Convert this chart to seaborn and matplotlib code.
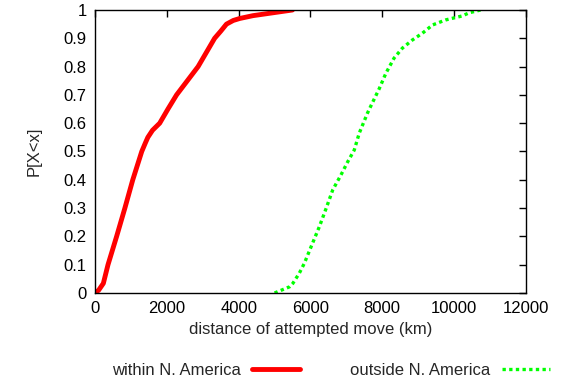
import numpy as np
import pandas as pd
import matplotlib
matplotlib.use('Agg')
import matplotlib.pyplot as plt
import seaborn as sns

# CDF points (distance in km, cumulative probability)
within_km = [0, 100, 230, 360, 600, 830, 1050, 1200, 1300, 1400, 1470, 1600, 1800,
             2030, 2270, 2570, 2870, 3100, 3330, 3500, 3660, 3850, 4030, 4400, 4950, 5500]
within_p = [0, 0.01, 0.034, 0.1, 0.2, 0.3, 0.4, 0.46, 0.5, 0.53, 0.55, 0.575, 0.6,
            0.65, 0.7, 0.75, 0.8, 0.85, 0.9, 0.925, 0.95, 0.963, 0.97, 0.98, 0.99, 1.0]

outside_km = [5000, 5420, 5510, 5690, 5830, 6020, 6250, 6440, 6620, 6850, 7040,
              7220, 7360, 7590, 7680, 7920, 8100, 8330, 8560, 8840, 9120, 9400,
              9770, 10230, 10420, 10740]
outside_p = [0, 0.022, 0.034, 0.07, 0.105, 0.164, 0.235, 0.30, 0.364, 0.417, 0.464,
             0.505, 0.565, 0.636, 0.66, 0.723, 0.776, 0.83, 0.865, 0.894, 0.918, 0.947,
             0.965, 0.979, 0.99, 1.0]

series_names = ['within N. America', 'outside N. America']
x_ticks = [0, 2000, 4000, 6000, 8000, 10000, 12000]
y_ticks = [0, 0.1, 0.2, 0.3, 0.4, 0.5, 0.6, 0.7, 0.8, 0.9, 1.0]
y_tick_labels = ['0', '0.1', '0.2', '0.3', '0.4', '0.5', '0.6', '0.7', '0.8', '0.9', '1']

df = pd.concat([
    pd.DataFrame({'km': within_km, 'p': within_p, 'set': series_names[0]}),
    pd.DataFrame({'km': outside_km, 'p': outside_p, 'set': series_names[1]}),
])

sns.set_style('white')
plt.rcParams['font.family'] = ['Liberation Sans', 'DejaVu Sans']
plt.rcParams['font.size'] = 12

fig = plt.figure(figsize=(5.66, 3.84), dpi=100)
ax = fig.add_axes([0.168, 0.237, 0.761, 0.737])

sns.lineplot(data=df, x='km', y='p', hue='set', style='set',
             palette={series_names[0]: '#ff0000', series_names[1]: '#00ff00'},
             dashes={series_names[0]: '', series_names[1]: (1, 1)},
             estimator=None, sort=True, ax=ax)
widths = {series_names[0]: 3.5, series_names[1]: 2.4}
ax.lines[0].set_linewidth(widths[series_names[0]])
ax.lines[1].set_linewidth(widths[series_names[1]])

ax.set_xlim(0, 12000)
ax.set_ylim(0, 1)
ax.set_xticks(x_ticks)
ax.set_xticklabels([str(t) for t in x_ticks])
ax.set_yticks(y_ticks)
ax.set_yticklabels(y_tick_labels)
ax.tick_params(direction='in', length=5, width=1, top=True, right=True,
               labelsize=12, colors='black', pad=6)
for s in ax.spines.values():
    s.set_color('black')
    s.set_linewidth(1)

ax.set_xlabel('distance of attempted move (km)', fontsize=12, labelpad=4)
ax.set_ylabel('P[X<x]', fontsize=12, labelpad=16)

handles, labels = ax.get_legend_handles_labels()
ax.get_legend().remove()
for h in handles:
    h.set_linewidth(widths[h.get_label()])
fig.legend(handles, labels, loc='center', bbox_to_anchor=(0.585, 0.035), ncol=2,
           markerfirst=False, frameon=False, handlelength=2.9, columnspacing=3.0,
           fontsize=12, handletextpad=0.65)

plt.savefig('out.png', dpi=100)
